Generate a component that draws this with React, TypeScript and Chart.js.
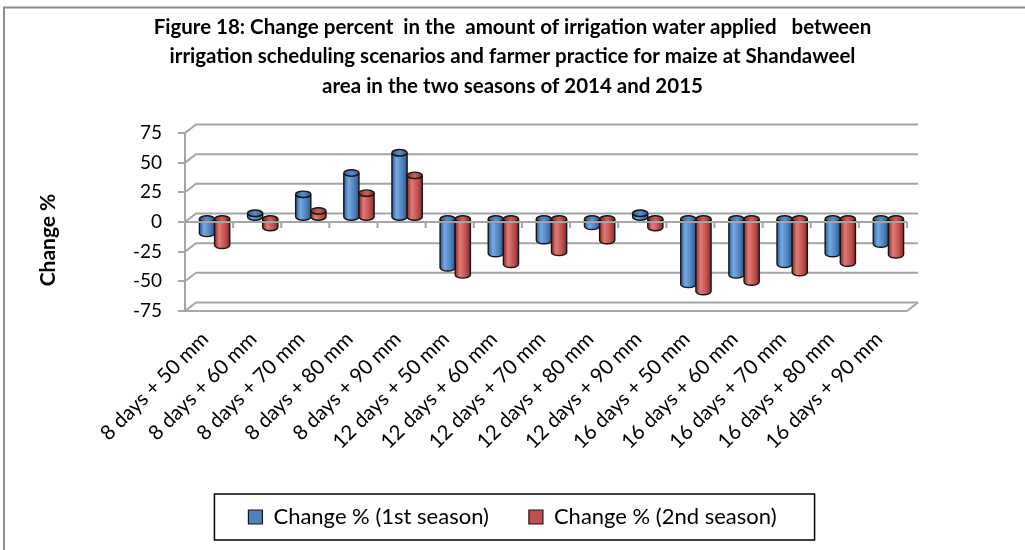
import React, { useEffect, useRef } from 'react';
import { Chart, registerables } from 'chart.js';

Chart.register(...registerables);

const titleLines = [
  'Figure 18: Change percent  in the  amount of irrigation water applied   between',
  'irrigation scheduling scenarios and farmer practice for maize at Shandaweel',
  'area in the two seasons of 2014 and 2015',
];
const yAxisTitle = 'Change %';
const categories = [
  '8 days + 50 mm', '8 days + 60 mm', '8 days + 70 mm', '8 days + 80 mm', '8 days + 90 mm',
  '12 days + 50 mm', '12 days + 60 mm', '12 days + 70 mm', '12 days + 80 mm', '12 days + 90 mm',
  '16 days + 50 mm', '16 days + 60 mm', '16 days + 70 mm', '16 days + 80 mm', '16 days + 90 mm',
];
const seriesNames = ['Change % (1st season)', 'Change % (2nd season)'];
const season1 = [-13, 4, 20, 38, 55, -42, -30, -19, -7, 4, -56, -48, -39, -30, -22];
const season2 = [-23, -8, 6, 21, 36, -48, -39, -29, -19, -8, -62, -54, -46, -38, -31];
const yMin = -75;
const yMax = 75;
const yStep = 25;

const FONT = 'Lato, "Open Sans", sans-serif';
const GRID = '#a5a5a5';
const DX = 11; // back wall offset
const DY = -8.5;
const BX = 5.5; // bar depth offset
const BY = -4;

const palettes = [
  { dark: '#2f5a8e', light: '#78a8e4', base: '#4f81bd', cap: '#5a8ccc' },
  { dark: '#8a2b28', light: '#e07b77', base: '#c0504d', cap: '#cc5f5b' },
];

function drawCylinder(ctx: CanvasRenderingContext2D, cx: number, yTop: number, yBot: number, w: number, pal: any) {
  const rx = w / 2;
  const ry = Math.max(2.5, w * 0.21);
  const g = ctx.createLinearGradient(cx - rx, 0, cx + rx, 0);
  g.addColorStop(0, pal.dark);
  g.addColorStop(0.3, pal.light);
  g.addColorStop(0.7, pal.base);
  g.addColorStop(1, pal.dark);
  ctx.beginPath();
  ctx.moveTo(cx - rx, yTop);
  ctx.lineTo(cx - rx, yBot);
  ctx.ellipse(cx, yBot, rx, ry, 0, Math.PI, 0, true);
  ctx.lineTo(cx + rx, yTop);
  ctx.ellipse(cx, yTop, rx, ry, 0, 0, Math.PI, false);
  ctx.closePath();
  ctx.fillStyle = g;
  ctx.fill();
  ctx.strokeStyle = '#151515';
  ctx.lineWidth = 1.4;
  ctx.stroke();
  const cg = ctx.createLinearGradient(cx - rx, 0, cx + rx, 0);
  cg.addColorStop(0, pal.dark);
  cg.addColorStop(0.5, pal.cap);
  cg.addColorStop(1, pal.dark);
  ctx.beginPath();
  ctx.ellipse(cx, yTop, rx, ry, 0, 0, Math.PI * 2);
  ctx.fillStyle = cg;
  ctx.fill();
  ctx.stroke();
}

const frame3d = {
  id: 'frame3d',
  beforeDatasetsDraw(chart: any) {
    const { ctx, chartArea: a, scales } = chart;
    const y = scales.y;
    ctx.save();
    ctx.strokeStyle = GRID;
    ctx.lineWidth = 2;
    y.ticks.forEach((t: any) => {
      const py = y.getPixelForValue(t.value);
      ctx.beginPath();
      ctx.moveTo(a.left, py);
      ctx.lineTo(a.left + DX, py + DY);
      ctx.lineTo(a.right + DX, py + DY);
      ctx.stroke();
    });
    ctx.beginPath();
    ctx.moveTo(a.left, a.bottom);
    ctx.lineTo(a.right, a.bottom);
    ctx.lineTo(a.right + DX, a.bottom + DY);
    ctx.stroke();
    ctx.restore();
  },
  beforeDatasetDraw() {
    return false;
  },
  afterDatasetsDraw(chart: any) {
    const { ctx, chartArea: a, scales } = chart;
    const x = scales.x;
    const y = scales.y;
    ctx.save();
    const n = chart.data.labels.length;
    for (let i = 0; i < n; i++) {
      chart.data.datasets.forEach((ds: any, di: number) => {
        const meta = chart.getDatasetMeta(di);
        const el: any = meta.data[i];
        const cx = el.x + BX;
        const yVal = el.y + BY;
        const yBase = el.base + BY;
        const top = Math.min(yVal, yBase);
        const bot = Math.max(yVal, yBase);
        drawCylinder(ctx, cx, top, bot, el.width, palettes[di]);
      });
    }
    // front category axis at zero
    const y0 = y.getPixelForValue(0);
    ctx.strokeStyle = GRID;
    ctx.lineWidth = 2;
    ctx.beginPath();
    ctx.moveTo(a.left, y0);
    ctx.lineTo(a.right, y0);
    for (let i = 0; i <= n; i++) {
      const px = i === 0 ? a.left : i === n ? a.right : (x.getPixelForValue(i - 1) + x.getPixelForValue(i)) / 2;
      ctx.moveTo(px, y0);
      ctx.lineTo(px, y0 + 6);
    }
    ctx.stroke();
    ctx.restore();
  },
  afterDraw(chart: any) {
    const { ctx } = chart;
    ctx.save();
    // outer frame
    ctx.strokeStyle = '#8c8c8c';
    ctx.lineWidth = 2;
    ctx.strokeRect(4, 7.5, 1200, 1000);
    // legend frame
    const hb = chart.legend && chart.legend.legendHitBoxes;
    if (hb && hb.length) {
      const first = hb[0];
      const last = hb[hb.length - 1];
      const cy = first.top + first.height / 2;
      const left = first.left - 34;
      const right = last.left + last.width + 38;
      ctx.strokeStyle = '#000';
      ctx.lineWidth = 1.5;
      ctx.strokeRect(left, cy - 23, right - left, 46);
    }
    // y axis title
    ctx.translate(48, 240);
    ctx.rotate(-Math.PI / 2);
    ctx.fillStyle = '#000';
    ctx.font = 'bold 21px ' + FONT;
    ctx.textAlign = 'center';
    ctx.textBaseline = 'middle';
    ctx.fillText(yAxisTitle, 0, 0);
    ctx.restore();
  },
};

export default function App() {
  const ref = useRef<HTMLCanvasElement>(null);
  useEffect(() => {
    if (!ref.current) return;
    const chart = new Chart(ref.current, {
      type: 'bar',
      data: {
        labels: categories,
        datasets: [
          { label: seriesNames[0], data: season1, backgroundColor: '#4f81bd', borderColor: '#151515', borderWidth: 1.2 },
          { label: seriesNames[1], data: season2, backgroundColor: '#c0504d', borderColor: '#151515', borderWidth: 1.2 },
        ],
      },
      options: {
        responsive: false,
        animation: false,
        devicePixelRatio: 1,
        datasets: { bar: { categoryPercentage: 0.63, barPercentage: 1 } },
        layout: { padding: { left: 0, right: 0, top: 0, bottom: 12 } },
        plugins: {
          tooltip: { enabled: false },
          title: {
            display: true,
            text: titleLines,
            color: '#000',
            font: { family: FONT, size: 20.5, weight: 'bold', lineHeight: 1.439 },
            padding: { top: 12.25, bottom: 32.25 },
          },
          legend: {
            display: true,
            position: 'bottom',
            labels: {
              color: '#000',
              font: { family: FONT, size: 22 },
              boxWidth: 14,
              boxHeight: 14,
              padding: 40,
            },
          },
        },
        scales: {
          x: {
            grid: { display: false, drawTicks: false },
            border: { display: false },
            ticks: {
              autoSkip: false,
              minRotation: 45,
              maxRotation: 45,
              padding: 16,
              labelOffset: -4,
              color: '#000',
              font: { family: FONT, size: 20.5 },
            },
            afterFit: (s: any) => {
              s.height = 155;
            },
          },
          y: {
            min: yMin,
            max: yMax,
            ticks: { stepSize: yStep, padding: 16, color: '#000', font: { family: FONT, size: 19 } },
            grid: { drawOnChartArea: false, color: GRID, lineWidth: 2, tickLength: 7 },
            border: { display: true, color: GRID, width: 2 },
            afterFit: (s: any) => {
              s.width = 185;
            },
          },
          yRight: {
            axis: 'y',
            position: 'right',
            display: true,
            grid: { display: false, drawTicks: false },
            border: { display: false },
            ticks: { display: false },
            afterFit: (s: any) => {
              s.width = 118;
            },
          },
        },
      },
      plugins: [frame3d],
    });
    return () => chart.destroy();
  }, []);
  return (
    <div style={{ position: 'absolute', left: 0, top: 0, width: 1025, height: 550, background: '#fff' }}>
      <canvas ref={ref} width={1025} height={550} style={{ display: 'block' }} />
    </div>
  );
}
